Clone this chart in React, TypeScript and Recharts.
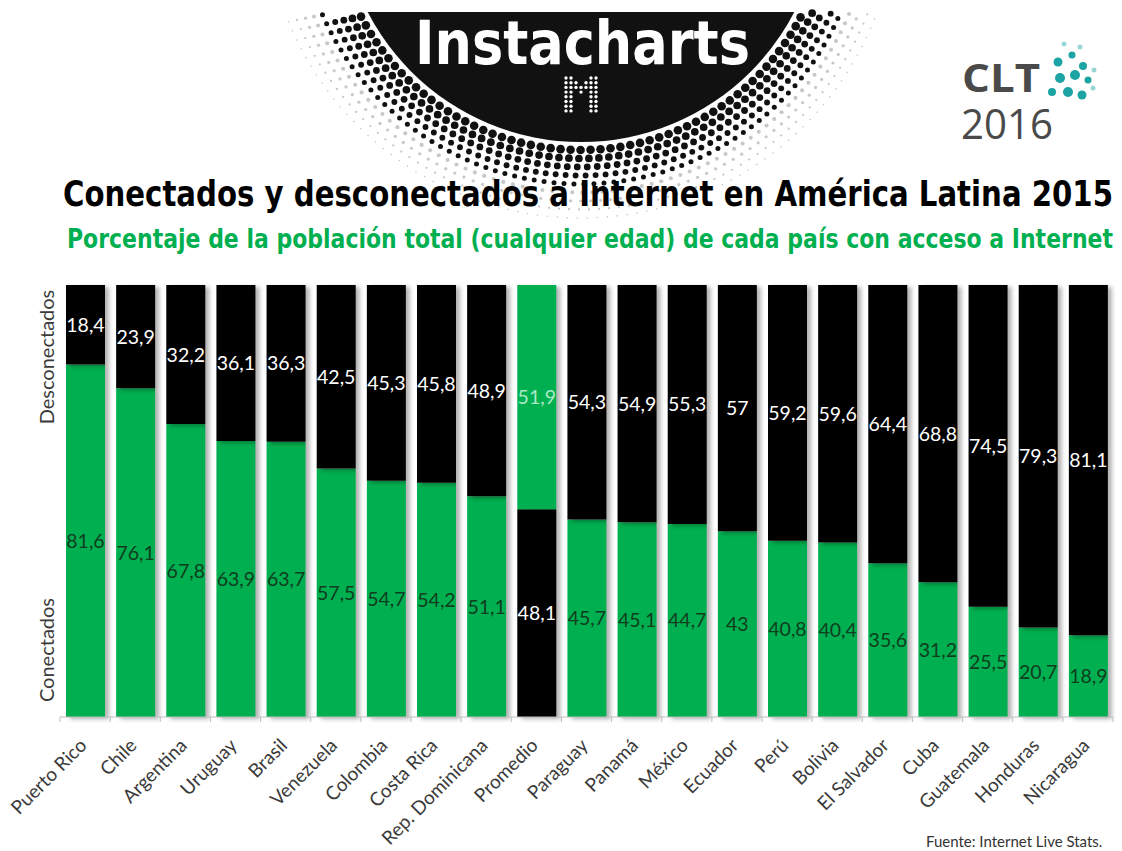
import React from 'react';
import { BarChart, Bar, XAxis, YAxis, Cell, LabelList } from 'recharts';

const categorias = [
  'Puerto Rico', 'Chile', 'Argentina', 'Uruguay', 'Brasil', 'Venezuela', 'Colombia',
  'Costa Rica', 'Rep. Dominicana', 'Promedio', 'Paraguay', 'Panamá', 'México', 'Ecuador',
  'Perú', 'Bolivia', 'El Salvador', 'Cuba', 'Guatemala', 'Honduras', 'Nicaragua',
];
const conectados = [81.6, 76.1, 67.8, 63.9, 63.7, 57.5, 54.7, 54.2, 51.1, 51.9, 45.7, 45.1, 44.7, 43, 40.8, 40.4, 35.6, 31.2, 25.5, 20.7, 18.9];
const desconectados = [18.4, 23.9, 32.2, 36.1, 36.3, 42.5, 45.3, 45.8, 48.9, 48.1, 54.3, 54.9, 55.3, 57, 59.2, 59.6, 64.4, 68.8, 74.5, 79.3, 81.1];
const promedio = 'Promedio';

const VERDE = '#00b050';
const NEGRO = '#000000';
const FONT = 'Lato, "Open Sans", sans-serif';
const NARROW = '"Liberation Sans Narrow", "DejaVu Sans Condensed", sans-serif';

// the average bar is drawn the other way round: disconnected at the bottom
const data = categorias.map((pais, i) => {
  const inv = pais === promedio;
  return {
    pais,
    inv,
    abajo: inv ? desconectados[i] : conectados[i],
    arriba: inv ? conectados[i] : desconectados[i],
  };
});

const fmt = (v: number) => String(v).replace('.', ',');

const makeLabel = (colorFor: (inv: boolean) => string) => (props: any) => {
  const vb = props.viewBox ?? props;
  const x = vb.x ?? props.x;
  const y = vb.y ?? props.y;
  const w = vb.width ?? props.width;
  const h = vb.height ?? props.height;
  const d = data[props.index];
  return (
    <text x={x + w / 2} y={y + h / 2} dy="0.36em" textAnchor="middle"
      fill={colorFor(!!d?.inv)} fontSize={19.5} fontFamily={FONT}>
      {fmt(props.value)}
    </text>
  );
};

const CountryTick = (props: any) => {
  const { x, y, payload, index } = props;
  const half = payload?.offset ?? 25;
  const last = index === categorias.length - 1;
  return (
    <g>
      <line x1={x - half} x2={x - half} y1={y} y2={y + 5} stroke="#bfbfbf" />
      {last && <line x1={x + half} x2={x + half} y1={y} y2={y + 5} stroke="#bfbfbf" />}
      <text transform={`translate(${x - 2},${y + 25}) rotate(-45)`} textAnchor="end" dy="0.35em"
        fill="#3a3a3a" fontSize={19} fontFamily={FONT}>
        {payload.value}
      </text>
    </g>
  );
};

// halftone ring around the header disc
const CX = 581, CY = -98, R = 240;
const halftone: { x: number; y: number; r: number; c: string }[] = [];
for (let k = 0; k < 9; k++) {
  const rr = R + 8 + k * 8.5;
  const size = Math.max(0.8, 4.3 - k * 0.45);
  const step = 10 / rr;
  const shift = k % 2 ? step / 2 : 0;
  for (let a = shift; a < Math.PI; a += step) {
    const x = CX + rr * Math.cos(a);
    const y = CY + rr * Math.sin(a);
    if (y < 13) continue;
    halftone.push({ x, y, r: size, c: k < 5 ? '#111' : '#c8c8c8' });
  }
}

const mPattern = ['XX...XX', 'XXX.XXX', 'XXXXXXX', 'XX.X.XX', 'XX...XX', 'XX...XX', 'XX...XX', 'XX...XX'];

const cltDots = [
  { x: 1058, y: 62, r: 4.5 }, { x: 1072, y: 55, r: 3.5 }, { x: 1083, y: 66, r: 4 },
  { x: 1060, y: 78, r: 5 }, { x: 1075, y: 75, r: 5 }, { x: 1088, y: 80, r: 3.5 },
  { x: 1052, y: 92, r: 4 }, { x: 1068, y: 92, r: 5 }, { x: 1082, y: 95, r: 4.5 },
  { x: 1064, y: 44, r: 2.5 }, { x: 1080, y: 47, r: 2.5 }, { x: 1094, y: 70, r: 2.5 },
  { x: 1093, y: 88, r: 2.5 },
];

const TITLE_SX = 0.88;
const SUB_SX = 0.85;

export default function App() {
  return (
    <div style={{ position: 'relative', width: 1122, height: 851, background: '#fff', overflow: 'hidden' }}>
      <style>{`body{margin:0} .recharts-bar-rectangle{filter:drop-shadow(4px 2px 2px rgba(0,0,0,0.3));}`}</style>
      <svg width={1122} height={851} style={{ position: 'absolute', left: 0, top: 0 }}>
        {halftone.map((d, i) => (
          <circle key={i} cx={d.x} cy={d.y} r={d.r} fill={d.c} />
        ))}
        <clipPath id="topcut"><rect x={0} y={12} width={1122} height={300} /></clipPath>
        <circle cx={CX} cy={CY} r={R} fill="#111" clipPath="url(#topcut)" />
        <text x={415} y={64} fontSize={60} fontWeight="bold" fill="#fff" textLength={335}
          lengthAdjust="spacingAndGlyphs" fontFamily={NARROW}>
          Instacharts
        </text>
        {mPattern.map((row, r) =>
          row.split('').map((c, j) =>
            c === 'X' ? <circle key={`${r}-${j}`} cx={566 + j * 5} cy={78 + r * 4.7} r={1.7} fill="#fff" /> : null
          )
        )}
        <text x={962} y={92} fontSize={40} fontWeight="bold" fill="#4a4a4a" textLength={78}
          lengthAdjust="spacingAndGlyphs" fontFamily='"Open Sans", sans-serif'>CLT</text>
        <text x={961} y={139} fontSize={42} fill="#4a4a4a" textLength={92}
          lengthAdjust="spacingAndGlyphs" fontFamily='"Open Sans", sans-serif'>2016</text>
        {cltDots.map((d, i) => (
          <circle key={i} cx={d.x} cy={d.y} r={d.r} fill="#1ca3a3" opacity={d.r < 3 ? 0.45 : 1} />
        ))}
        <g transform={`translate(63,206) scale(${TITLE_SX},1)`}>
          <text x={0} y={0} fontSize={35} fontWeight="bold" fill="#000" textLength={1050 / TITLE_SX}
            lengthAdjust="spacingAndGlyphs" fontFamily={NARROW}>
            Conectados y desconectados a Internet en América Latina 2015
          </text>
        </g>
        <g transform={`translate(67,248) scale(${SUB_SX},1)`}>
          <text x={0} y={0} fontSize={27} fontWeight="bold" fill={VERDE} textLength={1046 / SUB_SX}
            lengthAdjust="spacingAndGlyphs" fontFamily={NARROW}>
            Porcentaje de la población total (cualquier edad) de cada país con acceso a Internet
          </text>
        </g>
        <text transform="translate(47,357) rotate(-90)" textAnchor="middle" dy="0.35em"
          fontSize={20} fill="#3a3a3a" fontFamily={FONT}>Desconectados</text>
        <text transform="translate(47,650) rotate(-90)" textAnchor="middle" dy="0.35em"
          fontSize={20} fill="#3a3a3a" fontFamily={FONT}>Conectados</text>
        <text x={926} y={847} fontSize={15} fill="#333" fontFamily={FONT}>Fuente: Internet Live Stats.</text>
      </svg>
      <div style={{ position: 'absolute', left: 0, top: 0 }}>
        <BarChart width={1122} height={851} data={data}
          margin={{ top: 285, right: 9, left: 60, bottom: 34 }}>
          <XAxis dataKey="pais" interval={0} height={100} tickLine={false} tickSize={0} tickMargin={0}
            axisLine={{ stroke: '#bfbfbf' }} tick={<CountryTick />} />
          <YAxis hide type="number" domain={[0, 100]} />
          <Bar dataKey="abajo" stackId="a" barSize={39} isAnimationActive={false}>
            {data.map((d, i) => <Cell key={i} fill={d.inv ? NEGRO : VERDE} />)}
            <LabelList dataKey="abajo" content={makeLabel((inv) => (inv ? '#ffffff' : '#0f3d1e'))} />
          </Bar>
          <Bar dataKey="arriba" stackId="a" barSize={39} isAnimationActive={false}>
            {data.map((d, i) => <Cell key={i} fill={d.inv ? VERDE : NEGRO} />)}
            <LabelList dataKey="arriba" content={makeLabel((inv) => (inv ? '#a9e9c5' : '#ffffff'))} />
          </Bar>
        </BarChart>
      </div>
    </div>
  );
}
